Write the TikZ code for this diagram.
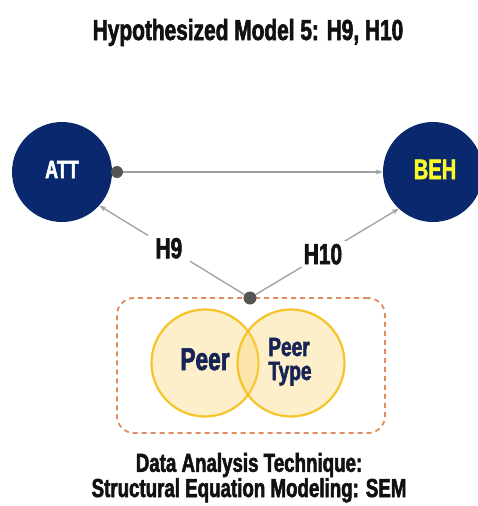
\documentclass[tikz,border=0pt]{standalone}
\usepackage{fontspec}
\newfontfamily\imp[FakeStretch=0.72,FakeBold=2]{Liberation Sans}
\usetikzlibrary{arrows.meta}
\definecolor{navy}{RGB}{10,40,110}
\definecolor{behyellow}{RGB}{250,250,40}
\definecolor{venncol}{RGB}{250,212,105}
\definecolor{vennline}{RGB}{244,196,40}
\definecolor{dashcol}{RGB}{222,140,92}
\definecolor{conncol}{RGB}{160,160,160}
\definecolor{dotcol}{RGB}{85,85,85}
\definecolor{txtdark}{RGB}{17,17,17}
\definecolor{venntxt}{RGB}{22,35,85}
\newcommand\myfs[1]{\fontsize{#1}{#1}\selectfont}
\tikzset{
  imptext/.style={font={\imp\bfseries\myfs{#1}}, inner sep=0pt, text=txtdark},
  bigcirc/.style={circle, fill=navy, minimum size=100pt, inner sep=0pt},
  venncirc/.style={circle, draw=vennline, line width=2.2pt, fill=venncol, fill opacity=0.35, minimum size=107pt, inner sep=0pt},
  dashbox/.style={draw=dashcol, line width=1.8pt, dash pattern=on 5pt off 4pt, rounded corners=17pt, minimum width=268pt, minimum height=135pt, inner sep=0pt},
  dotnode/.style={circle, fill=dotcol, minimum size=#1, inner sep=0pt},
  conn/.style={draw=conncol, line width=1.3pt, -{Stealth[length=7pt,width=5pt]}},
  lbl/.style={imptext=29, fill=white, inner xsep=8pt, inner ysep=3pt},
}
\begin{document}
\begin{tikzpicture}[x=1pt,y=-1pt]
\useasboundingbox[fill=white] (0,0) rectangle (478,506);
% title
\node[imptext=29, anchor=base] (title) at (248,40) {Hypothesized Model 5: H9, H10};
% big circles
\node[bigcirc] (att) at (62,172) {};
\node[bigcirc] (beh) at (433,172) {};
\node[imptext=25, text=white, anchor=base] (atttxt) at (62,178) {ATT};
\node[imptext=28, text=behyellow, anchor=base] (behtxt) at (435,179) {BEH};
% dashed box with venn
\node[dashbox] (box) at (251,365.5) {};
\node[venncirc] (vl) at (205,363) {};
\node[venncirc] (vr) at (291,363) {};
\node[imptext=31.5, text=venntxt, anchor=base] (peer) at (205,370) {Peer};
\node[imptext=26.5, text=venntxt, anchor=base] (peer2) at (289,356) {Peer};
\node[imptext=26.5, text=venntxt, anchor=base] (type) at (290,380) {Type};
% bottom text
\node[imptext=26, anchor=base, align=center, font={\imp\bfseries\fontsize{26}{20}\selectfont}] (bot) at (249,497) {Data Analysis Technique:\\Structural Equation Modeling: SEM};
% dots
\node[dotnode=12pt] (d1) at (117,172) {};
\node[dotnode=13pt] (d2) at (250,298) {};
% connectors
\draw[conn] (d1) -- (beh);
\draw[conn] (d2) -- node[lbl, pos=0.52] (h9) {H9} (att.-42);
\draw[conn] (d2) -- node[lbl, pos=0.47] (h10) {H10} (beh.-133);
\end{tikzpicture}
\end{document}
